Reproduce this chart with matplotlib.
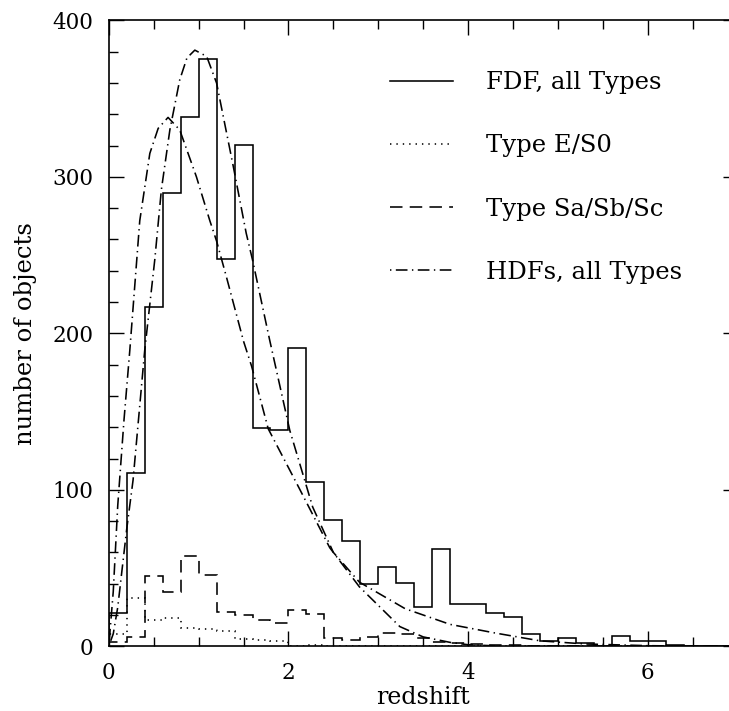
import numpy as np
import matplotlib
matplotlib.use("Agg")
import matplotlib.pyplot as plt
from matplotlib.ticker import MultipleLocator
from matplotlib.lines import Line2D

# ---------------- data ----------------
bin_edges = np.round(np.arange(0.0, 7.0001, 0.2), 1)

fdf_all = [21, 110.6, 217, 290, 338.4, 375.3, 247.5, 320.1, 139.3, 138.2,
           190.8, 104.7, 80.7, 67, 40, 50.9, 40.2, 25.3, 62, 26.8,
           26.8, 21.1, 18.7, 7.9, 3.2, 5.1, 1.8, 0.5, 6.6, 3.2,
           3.2, 0.6, 0.4, 0.3, 0.2]

type_es0 = [8, 30.6, 17, 18, 12, 11, 10, 4.5, 4, 3.5,
            0.5, 1, 0.5, 0.4, 0.3, 0.3, 0.3, 0.2, 0.2, 0.2,
            0.2, 0.1, 0.1, 0.1, 0.1, 0.1, 0.1, 0.1, 0.1, 0.1,
            0.1, 0, 0, 0, 0]

type_sab = [3, 6, 45, 34.5, 57.5, 45.5, 22.2, 20.2, 16.8, 14.8,
            23.4, 20.5, 5, 4, 6, 8.3, 8, 5, 3, 2,
            1.5, 1, 1, 0.5, 0.5, 0.4, 0.3, 0.2, 0.3, 0.2,
            0.2, 0.1, 0.1, 0, 0]

hdf_a_z = [0.0, 0.05, 0.1, 0.17, 0.234, 0.345, 0.457, 0.55, 0.66, 0.79,
           0.976, 1.125, 1.2, 1.31, 1.5, 1.59, 1.775, 2.12, 2.46, 2.79,
           3.24, 3.5, 3.8, 4.0, 4.3]
hdf_a_n = [0, 35, 90, 145, 189, 272, 315, 331, 338, 330,
           300, 272, 259, 236, 195, 179, 139, 101, 63, 38,
           12.6, 6, 2.5, 1, 0.3]

hdf_b_z = [0.0, 0.05, 0.1, 0.2, 0.27, 0.4, 0.512, 0.586, 0.68, 0.79,
           0.87, 0.958, 1.09, 1.2, 1.385, 1.53, 1.6, 1.79, 2.015, 2.27, 2.5,
           2.79, 3.3, 3.8, 4.3, 4.8, 5.3, 6.0, 6.5]
hdf_b_n = [0, 8, 25, 75, 106, 189, 247, 292, 330, 362,
           376, 381, 377, 360, 307, 264, 247, 196, 138, 89, 60,
           41, 24, 14, 8.5, 3.5, 1.5, 0.4, 0.1]

labels = ["FDF, all Types", "Type E/S0", "Type Sa/Sb/Sc", "HDFs, all Types"]

# ---------------- style ----------------
plt.rcParams['font.family'] = ['DejaVu Serif']
plt.rcParams['lines.scale_dashes'] = False

fig = plt.figure(figsize=(7.29, 7.11), dpi=100)
ax = fig.add_axes([0.1492, 0.0910, 0.8626, 0.8803])

lw = 1.15
dotted = (0, (1.0, 3.6))
dashed = (0, (9.0, 5.2))
dashdot = (0, (1.0, 3.2, 8.4, 3.2))

ax.stairs(fdf_all, bin_edges, color='black', lw=lw, linestyle='-', baseline=0)
ax.stairs(type_es0, bin_edges, color='black', lw=lw, linestyle=dotted, baseline=0)
ax.stairs(type_sab, bin_edges, color='black', lw=lw, linestyle=dashed, baseline=0)
ax.plot(hdf_a_z, hdf_a_n, color='black', lw=lw, linestyle=dashdot)
ax.plot(hdf_b_z, hdf_b_n, color='black', lw=lw, linestyle=dashdot)

handles = [Line2D([], [], color='black', lw=lw, linestyle='-'),
           Line2D([], [], color='black', lw=lw, linestyle=dotted),
           Line2D([], [], color='black', lw=lw, linestyle=dashed),
           Line2D([], [], color='black', lw=lw, linestyle=dashdot)]
ax.legend(handles, labels, loc='upper left', bbox_to_anchor=(0.448, 0.919),
          frameon=False, fontsize=17.5, handlelength=2.59, handletextpad=1.36,
          labelspacing=1.655, borderaxespad=0, borderpad=0)

ax.set_xlim(0, 7)
ax.set_ylim(0, 400)
ax.xaxis.set_major_locator(MultipleLocator(2))
ax.xaxis.set_minor_locator(MultipleLocator(0.5))
ax.yaxis.set_major_locator(MultipleLocator(100))
ax.yaxis.set_minor_locator(MultipleLocator(20))
ax.tick_params(which='both', direction='in', top=True, right=True, width=1.0,
               labelsize=15.5)
ax.tick_params(which='major', length=10.8)
ax.tick_params(which='minor', length=6.3)
ax.tick_params(axis='x', which='major', pad=11.5)
ax.tick_params(axis='y', which='major', pad=11.0)
for s in ax.spines.values():
    s.set_linewidth(1.2)

ax.set_xlabel("redshift", fontsize=17)
ax.set_ylabel("number of objects", fontsize=17.5)
ax.xaxis.set_label_coords(0.5, -0.0634)
ax.yaxis.set_label_coords(-0.114, 0.5)

fig.savefig("out.png", dpi=100)
